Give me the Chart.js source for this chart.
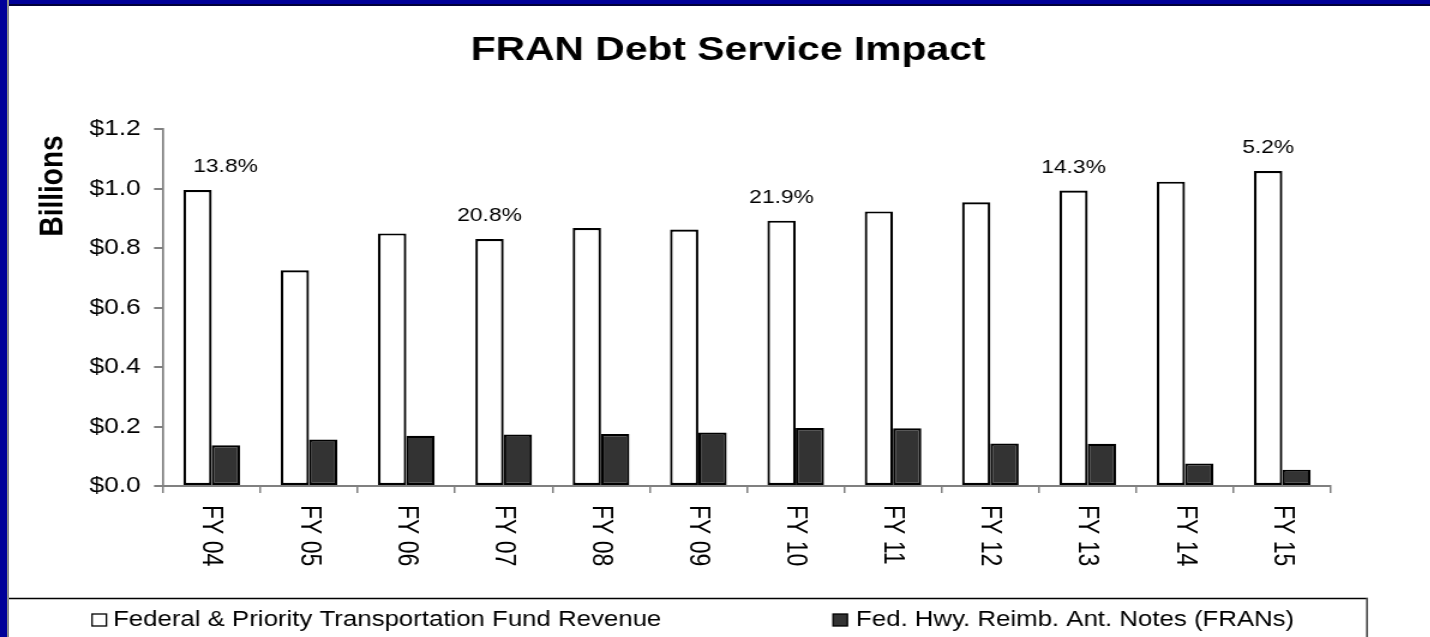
<!DOCTYPE html>
<html>
<head>
<meta charset="utf-8">
<script src="https://cdn.jsdelivr.net/npm/chart.js@4.4.1/dist/chart.umd.min.js"></script>
<style>
  html, body { margin: 0; padding: 0; background: #fff; overflow: hidden; }
  #wrap { position: absolute; left: 0; top: 0; width: 1430px; height: 637px; overflow: hidden; }
  #chart { position: absolute; left: 0; top: 0; transform: scaleX(1.2); transform-origin: 0 0; }
  .edge-top { position: absolute; left: 0; top: 0; width: 1430px; height: 4px; background: #000099; border-bottom: 2px solid #00003a; }
  .edge-left { position: absolute; left: 0; top: 0; width: 7px; height: 637px; background: #000099; border-right: 2px solid #8c8c8c; }
</style>
</head>
<body>
<div id="wrap">
  <canvas id="chart" width="1192" height="637"></canvas>
  <div class="edge-top"></div>
  <div class="edge-left"></div>
</div>
<script>
const categories = ['FY 04', 'FY 05', 'FY 06', 'FY 07', 'FY 08', 'FY 09', 'FY 10', 'FY 11', 'FY 12', 'FY 13', 'FY 14', 'FY 15'];
const revenue = [0.995, 0.725, 0.849, 0.830, 0.867, 0.862, 0.892, 0.923, 0.954, 0.993, 1.023, 1.059];
const frans = [0.137, 0.156, 0.169, 0.173, 0.175, 0.180, 0.195, 0.194, 0.143, 0.142, 0.076, 0.055];
const pctLabels = ['13.8%', '', '', '20.8%', '', '', '21.9%', '', '', '14.3%', '', '5.2%'];
const yTickLabels = ['$0.0', '$0.2', '$0.4', '$0.6', '$0.8', '$1.0', '$1.2'];

// the original slide is stretched sideways, so the canvas is drawn narrow and scaled by SX
const SX = 1.2;
const fx = v => v / SX;
const FONT = '"Liberation Sans", Arial, sans-serif';

Chart.defaults.font.family = FONT;
Chart.defaults.color = '#000';

const extras = {
  id: 'extras',
  afterDraw(chart) {
    const ctx = chart.ctx;
    const xs = chart.scales.x;
    ctx.save();
    ctx.fillStyle = '#000';

    // title
    ctx.font = `bold 34px ${FONT}`;
    ctx.textAlign = 'center';
    ctx.textBaseline = 'alphabetic';
    ctx.fillText('FRAN Debt Service Impact', fx(728), 60);

    // y axis caption, sits high on the axis
    ctx.save();
    ctx.translate(fx(62), 186);
    ctx.rotate(-Math.PI / 2);
    ctx.font = `bold 28px ${FONT}`;
    ctx.fillText('Billions', 0, 0);
    ctx.restore();

    // percentage notes over the revenue bars
    const meta = chart.getDatasetMeta(0);
    ctx.font = `19px ${FONT}`;
    pctLabels.forEach((t, i) => {
      if (!t) return;
      const bar = meta.data[i];
      const shift = i === 0 ? fx(28) : 0;
      ctx.fillText(t, bar.x + shift, bar.y - 18);
    });

    // category labels, turned clockwise
    ctx.font = `23px ${FONT}`;
    ctx.textAlign = 'left';
    chart.data.labels.forEach((lab, i) => {
      const x = xs.getPixelForValue(i) - 7;
      ctx.save();
      ctx.translate(x, 505);
      ctx.rotate(Math.PI / 2);
      ctx.fillText(lab, 0, 0);
      ctx.restore();
    });

    // legend box
    ctx.strokeStyle = '#000';
    ctx.lineWidth = 1.5;
    ctx.beginPath();
    ctx.moveTo(0, 598.5);
    ctx.lineTo(fx(1368), 598.5);
    ctx.stroke();
    ctx.strokeStyle = '#505050';
    ctx.lineWidth = 1.7;
    ctx.beginPath();
    ctx.moveTo(fx(1367), 598);
    ctx.lineTo(fx(1367), 640);
    ctx.stroke();

    const items = [{ box: fx(92), text: fx(113) }, { box: fx(833), text: fx(856) }];
    ctx.font = `21.5px ${FONT}`;
    chart.data.datasets.forEach((ds, k) => {
      const it = items[k];
      ctx.fillStyle = ds.backgroundColor;
      ctx.fillRect(it.box, 614, 12, 12);
      ctx.strokeStyle = '#000';
      ctx.lineWidth = 1.3;
      ctx.strokeRect(it.box, 614, 12, 12);
      ctx.fillStyle = '#000';
      ctx.fillText(ds.label, it.text, 626);
    });
    ctx.restore();
  }
};

new Chart(document.getElementById('chart'), {
  type: 'bar',
  data: {
    labels: categories,
    datasets: [
      { label: 'Federal & Priority Transportation Fund Revenue', data: revenue, backgroundColor: '#ffffff', borderColor: '#000', borderWidth: 2.2, borderSkipped: false },
      { label: 'Fed. Hwy. Reimb. Ant. Notes (FRANs)', data: frans, backgroundColor: '#333333', borderColor: '#000', borderWidth: 2.2, borderSkipped: false }
    ]
  },
  options: {
    responsive: false,
    animation: false,
    devicePixelRatio: 1,
    categoryPercentage: 0.582,
    barPercentage: 1,
    layout: { padding: { left: 24, right: 1192 - fx(1331), top: 129, bottom: 0 } },
    plugins: { legend: { display: false }, tooltip: { enabled: false }, title: { display: false } },
    scales: {
      x: {
        grid: { offset: true, drawOnChartArea: false, drawTicks: true, tickLength: 7, color: '#808080', lineWidth: 1.5 },
        border: { display: true, color: '#808080', width: 2 },
        ticks: { display: false },
        afterFit: s => { s.height = 637 - 486; }
      },
      y: {
        min: 0,
        max: 1.2,
        grid: { drawOnChartArea: false, drawTicks: true, tickLength: 7.5, color: '#808080', lineWidth: 2 },
        border: { display: true, color: '#808080', width: 1.7 },
        ticks: { stepSize: 0.2, padding: 11, font: { size: 22 }, color: '#000', callback: (v, i) => yTickLabels[i] },
        afterFit: s => { s.width = fx(163) - 24; }
      }
    }
  },
  plugins: [extras]
});
</script>
</body>
</html>
